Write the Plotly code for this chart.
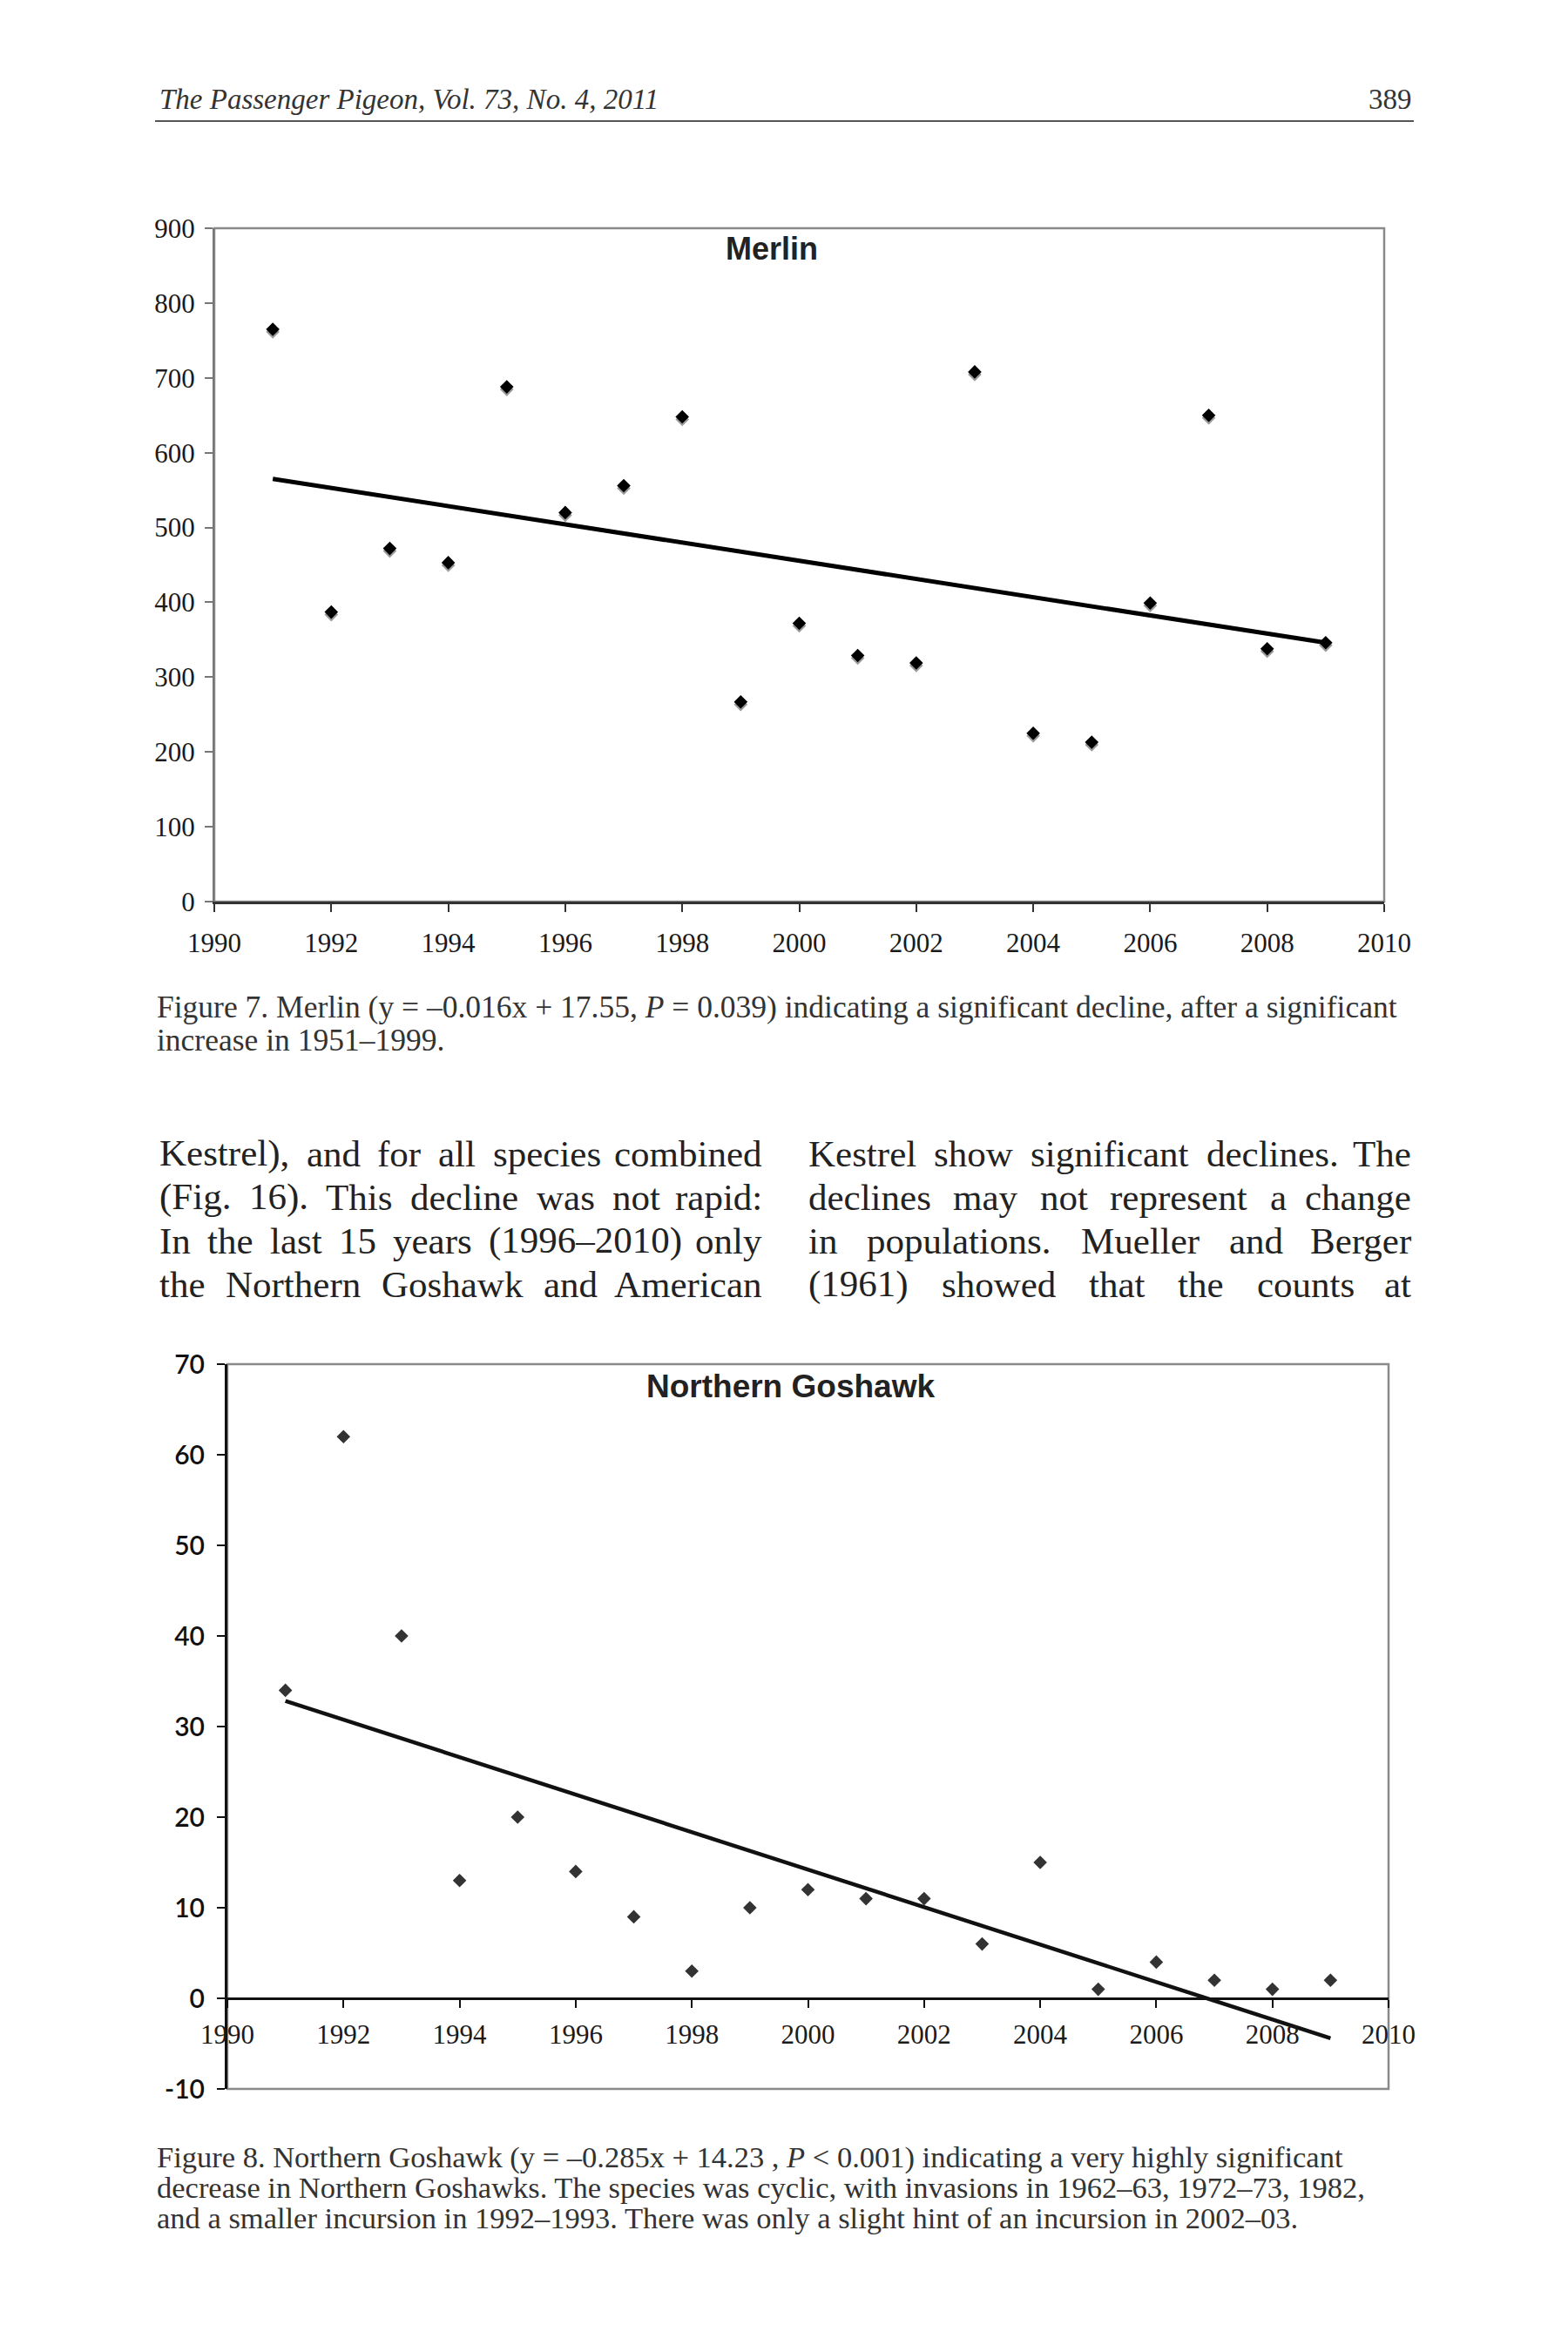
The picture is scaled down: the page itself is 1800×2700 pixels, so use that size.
import numpy as np
import plotly.graph_objects as go

# ---------------- data ----------------
years = list(range(1991, 2010))
merlin = [765, 387, 472, 453, 688, 520, 556, 648, 267, 372,
          329, 319, 708, 225, 213, 399, 650, 338, 346]
goshawk = [34, 62, 40, 13, 20, 14, 9, 3, 10, 12,
           11, 11, 6, 15, 1, 4, 2, 1, 2]

x_ticks = list(range(1990, 2011, 2))
merlin_y_ticks = list(range(0, 901, 100))
goshawk_y_ticks = list(range(-10, 71, 10))

header_left = "The Passenger Pigeon, Vol. 73, No. 4, 2011"
header_right = "389"
caption7 = [
    "Figure 7. Merlin (y = –0.016x + 17.55, <i>P</i> = 0.039) indicating a significant decline, after a significant",
    "increase in 1951–1999.",
]
body_left = [
    "Kestrel), and for all species combined",
    "(Fig. 16). This decline was not rapid:",
    "In the last 15 years (1996–2010) only",
    "the Northern Goshawk and American",
]
body_right = [
    "Kestrel show significant declines. The",
    "declines may not represent a change",
    "in populations. Mueller and Berger",
    "(1961) showed that the counts at",
]
caption8 = [
    "Figure 8. Northern Goshawk (y = –0.285x + 14.23 , <i>P</i> &lt; 0.001) indicating a very highly significant",
    "decrease in Northern Goshawks. The species was cyclic, with invasions in 1962–63, 1972–73, 1982,",
    "and a smaller incursion in 1992–1993. There was only a slight hint of an incursion in 2002–03.",
]

# regression lines
m_fit = np.polyfit(years, merlin, 1)
g_fit = np.polyfit(years, goshawk, 1)
fit_x = [years[0], years[-1]]
m_line = list(np.polyval(m_fit, fit_x))
g_line = list(np.polyval(g_fit, fit_x))

W, H = 1800, 2700
OFF = 8  # page body margin


def px(x):
    return (x - OFF) / W


def py(y):
    return 1 - (y - OFF) / H


# plot boxes (page pixels)
M_L, M_R, M_T, M_B = 246, 1589, 262, 1035
G_L, G_R, G_T, G_B = 261, 1594, 1566, 2398
G_ZERO = G_B - (G_B - G_T) * 10 / 80

SERIF = "Liberation Serif"
SANS = "Liberation Sans"

fig = go.Figure()

# Merlin shadow markers (axis y is a copy of the Merlin axis, 3 px lower)
fig.add_trace(go.Scatter(x=years, y=merlin, mode="markers", xaxis="x", yaxis="y",
                         marker=dict(symbol="diamond", size=12, color="#9a9a9a"),
                         showlegend=False, hoverinfo="skip"))
# Merlin trend and markers
fig.add_trace(go.Scatter(x=fit_x, y=m_line, mode="lines", xaxis="x", yaxis="y2",
                         line=dict(color="#000000", width=5), showlegend=False))
fig.add_trace(go.Scatter(x=years, y=merlin, mode="markers", xaxis="x", yaxis="y2",
                         marker=dict(symbol="diamond", size=12, color="#000000"),
                         showlegend=False))
# Goshawk
fig.add_trace(go.Scatter(x=fit_x, y=g_line, mode="lines", xaxis="x3", yaxis="y3",
                         line=dict(color="#111111", width=4.5), showlegend=False))
fig.add_trace(go.Scatter(x=years, y=goshawk, mode="markers", xaxis="x3", yaxis="y3",
                         marker=dict(symbol="diamond", size=12, color="#333333"),
                         showlegend=False))

tick_font = dict(family="Liberation Serif, Times New Roman, serif", size=31, color="#1a1a1a")

fig.update_layout(
    template="none",
    width=W, height=H,
    margin=dict(l=0, r=0, t=0, b=0, pad=0, autoexpand=False),
    paper_bgcolor="white",
    plot_bgcolor="rgba(0,0,0,0)",
    showlegend=False,
    xaxis=dict(domain=[px(M_L), px(M_R)], range=[1990, 2010], anchor="y2",
               tickmode="array", tickvals=x_ticks, ticktext=[str(t) for t in x_ticks],
               ticks="outside", ticklen=9, tickwidth=2, tickcolor="#333333",
               showline=True, linecolor="#333333", linewidth=3,
               showgrid=False, zeroline=False, tickfont=tick_font,
               ticklabelstandoff=9, automargin=False),
    yaxis=dict(domain=[py(M_B) - 3 / H, py(M_T) - 3 / H], range=[0, 900],
               anchor="x", visible=False, showgrid=False, zeroline=False,
               automargin=False),
    yaxis2=dict(domain=[py(M_B), py(M_T)], range=[0, 900], anchor="x",
                tickmode="array", tickvals=merlin_y_ticks,
                ticktext=[str(t) for t in merlin_y_ticks],
                ticks="outside", ticklen=9, tickwidth=2, tickcolor="#777777",
                showline=True, linecolor="#777777", linewidth=2,
                showgrid=False, zeroline=False, tickfont=tick_font,
                ticklabelstandoff=5, automargin=False),
    xaxis3=dict(domain=[px(G_L), px(G_R)], range=[1990, 2010], anchor="free",
                position=py(G_ZERO),
                tickmode="array", tickvals=x_ticks, ticktext=[str(t) for t in x_ticks],
                ticks="outside", ticklen=9, tickwidth=2, tickcolor="#111111",
                showline=True, linecolor="#111111", linewidth=3,
                showgrid=False, zeroline=False, tickfont=tick_font,
                ticklabelstandoff=4, automargin=False),
    yaxis3=dict(domain=[py(G_B), py(G_T)], range=[-10, 70], anchor="x3",
                tickmode="array", tickvals=goshawk_y_ticks,
                ticktext=[str(t) for t in goshawk_y_ticks],
                ticks="outside", ticklen=9, tickwidth=2, tickcolor="#111111",
                showline=True, linecolor="#111111", linewidth=3,
                showgrid=False, zeroline=False,
                tickfont=dict(family="Lato", size=30, color="#111111", weight=600),
                ticklabelstandoff=8, automargin=False),
)

shapes = [
    # header rule
    dict(type="line", xref="paper", yref="paper", x0=px(178), x1=px(1623),
         y0=py(139), y1=py(139), line=dict(color="#555555", width=2)),
    # Merlin frame
    dict(type="rect", xref="x domain", yref="y2 domain", x0=0, x1=1, y0=0, y1=1,
         line=dict(color="#8a8a8a", width=2.5), layer="below"),
    # Goshawk frame
    dict(type="rect", xref="x3 domain", yref="y3 domain", x0=0, x1=1, y0=0, y1=1,
         line=dict(color="#8a8a8a", width=2.5), layer="below"),
]
fig.update_layout(shapes=shapes)

ann = []


def text(x, y, s, size, family=SERIF, anchor="left", color="#333333", bold=False):
    if bold:
        s = "<b>" + s + "</b>"
    ann.append(dict(x=px(x), y=py(y), xref="paper", yref="paper", text=s,
                    showarrow=False, xanchor=anchor, yanchor="middle",
                    font=dict(family=family, size=size, color=color)))


# Times-compatible advance widths (per 1000 em) for justified body text
TW = {
    'a': 444, 'b': 500, 'c': 444, 'd': 500, 'e': 444, 'f': 333, 'g': 500, 'h': 500,
    'i': 278, 'j': 278, 'k': 500, 'l': 278, 'm': 778, 'n': 500, 'o': 500, 'p': 500,
    'q': 500, 'r': 333, 's': 389, 't': 278, 'u': 500, 'v': 500, 'w': 722, 'x': 500,
    'y': 500, 'z': 444,
    'A': 722, 'B': 667, 'C': 667, 'D': 722, 'E': 611, 'F': 556, 'G': 722, 'H': 722,
    'I': 333, 'J': 389, 'K': 722, 'L': 611, 'M': 889, 'N': 722, 'O': 722, 'P': 556,
    'Q': 722, 'R': 667, 'S': 556, 'T': 611, 'U': 722, 'V': 722, 'W': 944, 'X': 722,
    'Y': 722, 'Z': 611,
    '(': 333, ')': 333, '.': 250, ',': 250, ':': 278, '–': 500, '-': 333,
}


def word_width(w, size):
    return sum(TW.get(c, 500) for c in w) * size / 1000.0


def justified(lines, left, right, y0, dy, size, color="#222222"):
    for i, line in enumerate(lines):
        y = y0 + i * dy
        words = line.split(" ")
        widths = [word_width(w, size) for w in words]
        gap = (right - left - sum(widths)) / (len(words) - 1)
        x = left
        for j, w in enumerate(words):
            if j == len(words) - 1:
                text(right, y, w, size, anchor="right", color=color)
            else:
                text(x, y, w, size, color=color)
            x += widths[j] + gap


text(181, 114, "<i>" + header_left + "</i>", 33)
text(1623, 114, header_right, 33, anchor="right")

text(886, 286, "Merlin", 36, family=SANS, anchor="center", color="#222222", bold=True)
text(907, 1591, "Northern Goshawk", 37, family=SANS, anchor="center", color="#222222", bold=True)

for i, line in enumerate(caption7):
    text(178, 1156 + i * 38, line, 35.5)

justified(body_left, 181, 877, 1324, 50, 43)
justified(body_right, 926, 1622, 1324, 50, 43)

for i, line in enumerate(caption8):
    text(178, 2476 + i * 35, line, 34.5)

fig.update_layout(annotations=ann)

fig.write_html("out.html")
